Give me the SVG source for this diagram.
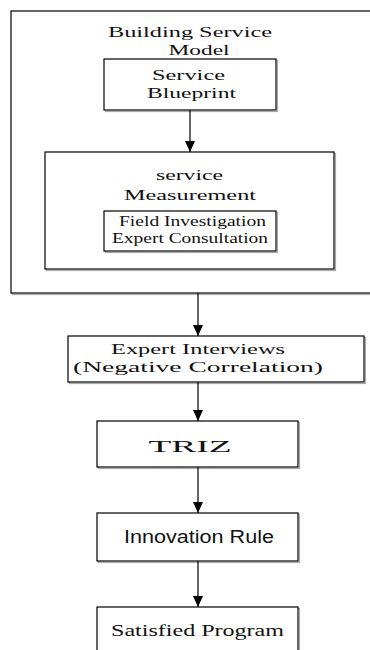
<svg xmlns="http://www.w3.org/2000/svg" width="370" height="650" viewBox="0 0 370 650">
<style>
.box{fill:#fff;stroke:#000;stroke-width:1.2}
.sh{fill:none;stroke:#aaa;stroke-width:1.2}
.t{font-family:"Liberation Serif","Times New Roman",serif;font-size:15px;fill:#111;text-anchor:middle}
.s{font-family:"Liberation Sans",Arial,sans-serif;font-size:17.5px;fill:#111;text-anchor:middle}
.c{stroke:#000;stroke-width:1.2;fill:none}
</style>
<defs>
<marker id="ah" markerWidth="12" markerHeight="10" refX="11" refY="5" orient="auto" markerUnits="userSpaceOnUse">
<path d="M0,0 L11,5 L0,10 Z" fill="#000"/>
</marker>
</defs>
<rect width="370" height="650" fill="#fff"/>
<g id="building-service-model">
<rect class="sh" x="12.5" y="12.5" width="370" height="282"/>
<rect class="box" x="11" y="11" width="370" height="282"/>
<text class="t" x="190" y="37" textLength="164" lengthAdjust="spacingAndGlyphs">Building Service</text>
<text class="t" x="199" y="55" textLength="61" lengthAdjust="spacingAndGlyphs">Model</text>
</g>
<g id="service-blueprint">
<rect class="sh" x="105.5" y="60.5" width="172" height="51"/>
<rect class="box" x="104" y="59" width="172" height="51"/>
<text class="t" x="188.5" y="80" textLength="73" lengthAdjust="spacingAndGlyphs">Service</text>
<text class="t" x="191.5" y="98" textLength="89" lengthAdjust="spacingAndGlyphs">Blueprint</text>
</g>
<g id="service-measurement">
<rect class="sh" x="46.5" y="153.5" width="289" height="117"/>
<rect class="box" x="45" y="152" width="289" height="117"/>
<text class="t" x="189.5" y="180" textLength="67" lengthAdjust="spacingAndGlyphs">service</text>
<text class="t" x="190" y="200" textLength="132" lengthAdjust="spacingAndGlyphs">Measurement</text>
</g>
<g id="field-expert">
<rect class="sh" x="105.5" y="212.5" width="172" height="40"/>
<rect class="box" x="104" y="211" width="172" height="40"/>
<text class="t" x="192.5" y="226" textLength="147" lengthAdjust="spacingAndGlyphs">Field Investigation</text>
<text class="t" x="190" y="243" textLength="156" lengthAdjust="spacingAndGlyphs">Expert Consultation</text>
</g>
<g id="expert-interviews">
<rect class="sh" x="69.5" y="337.5" width="296" height="46"/>
<rect class="box" x="68" y="336" width="296" height="46"/>
<text class="t" x="198" y="354" textLength="174" lengthAdjust="spacingAndGlyphs">Expert Interviews</text>
<text class="t" x="198" y="372" textLength="250" lengthAdjust="spacingAndGlyphs">(Negative Correlation)</text>
</g>
<g id="triz">
<rect class="sh" x="98.5" y="422.5" width="201" height="46"/>
<rect class="box" x="97" y="421" width="201" height="46"/>
<text class="t" x="190" y="452" textLength="83" lengthAdjust="spacingAndGlyphs" style="font-size:16px">TRIZ</text>
</g>
<g id="innovation-rule">
<rect class="sh" x="98.5" y="514.5" width="201" height="48"/>
<rect class="box" x="97" y="513" width="201" height="48"/>
<text class="s" x="199" y="543" textLength="150" lengthAdjust="spacingAndGlyphs">Innovation Rule</text>
</g>
<g id="satisfied-program">
<rect class="sh" x="98.5" y="608.5" width="201" height="60"/>
<rect class="box" x="97" y="607" width="201" height="60"/>
<text class="t" x="197.5" y="636" textLength="173" lengthAdjust="spacingAndGlyphs" style="font-size:16px">Satisfied Program</text>
</g>
<g id="connectors">
<line class="c" x1="190" y1="110" x2="190" y2="152" marker-end="url(#ah)"/>
<line class="c" x1="198" y1="293" x2="198" y2="336" marker-end="url(#ah)"/>
<line class="c" x1="198" y1="382" x2="198" y2="421" marker-end="url(#ah)"/>
<line class="c" x1="198" y1="467" x2="198" y2="513" marker-end="url(#ah)"/>
<line class="c" x1="198" y1="561" x2="198" y2="607" marker-end="url(#ah)"/>
</g>
</svg>
